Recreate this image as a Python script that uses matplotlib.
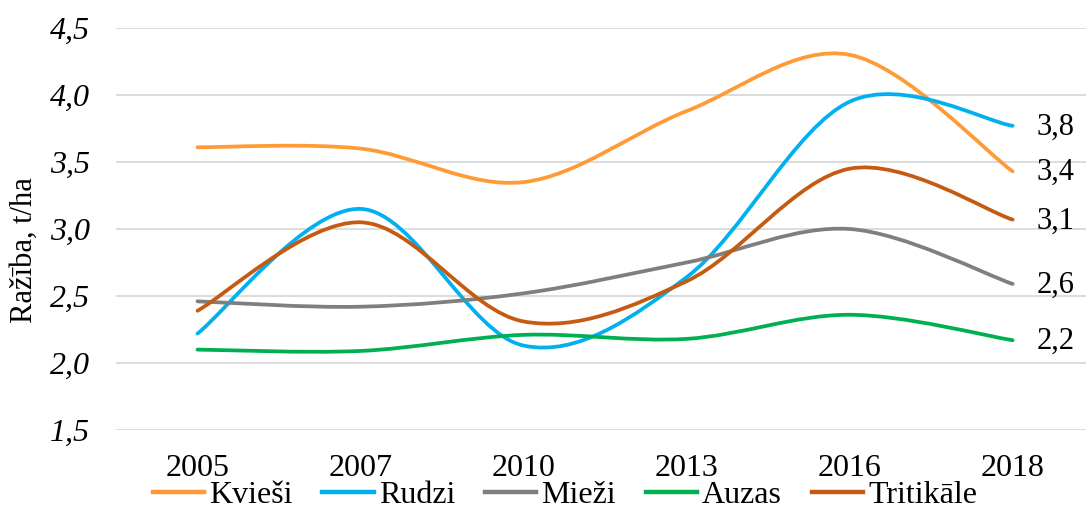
import matplotlib
matplotlib.use("Agg")
import matplotlib.pyplot as plt
from matplotlib.path import Path
from matplotlib.patches import PathPatch
from matplotlib.lines import Line2D
import numpy as np

years = ["2005", "2007", "2010", "2013", "2016", "2018"]
kviesi = [3.61, 3.60, 3.35, 3.88, 4.30, 3.43]
rudzi = [2.22, 3.15, 2.13, 2.64, 3.95, 3.77]
miezi = [2.46, 2.42, 2.52, 2.75, 3.00, 2.59]
auzas = [2.10, 2.09, 2.21, 2.18, 2.36, 2.17]
tritikale = [2.39, 3.05, 2.31, 2.61, 3.45, 3.07]

series = [
    ("Kvieši", kviesi, "#FF9B37"),
    ("Rudzi", rudzi, "#00B0F0"),
    ("Mieži", miezi, "#7F7F7F"),
    ("Auzas", auzas, "#00B050"),
    ("Tritikāle", tritikale, "#C55A11"),
]

plt.rcParams["font.family"] = ["Liberation Serif", "DejaVu Serif"]
FS = 23


def smooth_path(xs, ys):
    # Excel-like smoothed line: cubic Bezier segments (Catmull-Rom control points)
    pts = np.column_stack([xs, ys]).astype(float)
    padded = np.vstack([pts[0], pts, pts[-1]])
    verts = [pts[0]]
    codes = [Path.MOVETO]
    for i in range(len(pts) - 1):
        p0, p1, p2, p3 = padded[i], padded[i + 1], padded[i + 2], padded[i + 3]
        c1 = p1 + (p2 - p0) / 6.0
        c2 = p2 - (p3 - p1) / 6.0
        verts += [c1, c2, p2]
        codes += [Path.CURVE4] * 3
    return Path(verts, codes)


fig = plt.figure(figsize=(10.86, 5.09), dpi=100)
ax = fig.add_axes([116 / 1086, 79 / 509, 970 / 1086, 402 / 509])

x = np.arange(len(years))
handles = []
for name, vals, color in series:
    patch = PathPatch(smooth_path(x, vals), facecolor="none", edgecolor=color,
                      lw=2.7, capstyle="round", joinstyle="round", zorder=3)
    ax.add_patch(patch)
    handles.append(Line2D([], [], color=color, lw=3.2, label=name))

# end value labels for the last year
for name, vals, color in series:
    lbl = f"{vals[-1]:.1f}".replace(".", ",")
    ax.annotate(lbl, xy=(x[-1], vals[-1]), xytext=(17, -1), textcoords="offset points",
                ha="left", va="center", fontsize=FS - 1, color="black")

ax.set_xlim(-0.5, 5.45)
ax.set_ylim(1.5, 4.5)
ax.set_yticks(np.arange(1.5, 4.51, 0.5))
ax.set_yticklabels([f"{v:.1f}".replace(".", ",") for v in np.arange(1.5, 4.51, 0.5)],
                   fontstyle="italic", fontsize=FS)
ax.set_xticks(x)
ax.set_xticklabels(years, fontsize=FS)
ax.tick_params(axis="y", length=0, pad=19)
ax.tick_params(axis="x", length=0, pad=17)
ax.grid(axis="y", color="#D9D9D9", lw=1.3)
ax.set_axisbelow(True)
for s in ax.spines.values():
    s.set_visible(False)

fig.text(24 / 1086, 1 - 250 / 509, "Ražība, t/ha", rotation=90, fontsize=FS - 1,
         ha="center", va="center")

fig.legend(handles=handles, loc="center", bbox_to_anchor=(565 / 1086, 1 - 495 / 509),
           ncol=5, frameon=False, fontsize=FS, handlelength=1.6, handletextpad=0.16,
           columnspacing=0.94, borderpad=0, borderaxespad=0)

fig.savefig("out.png", dpi=100)
